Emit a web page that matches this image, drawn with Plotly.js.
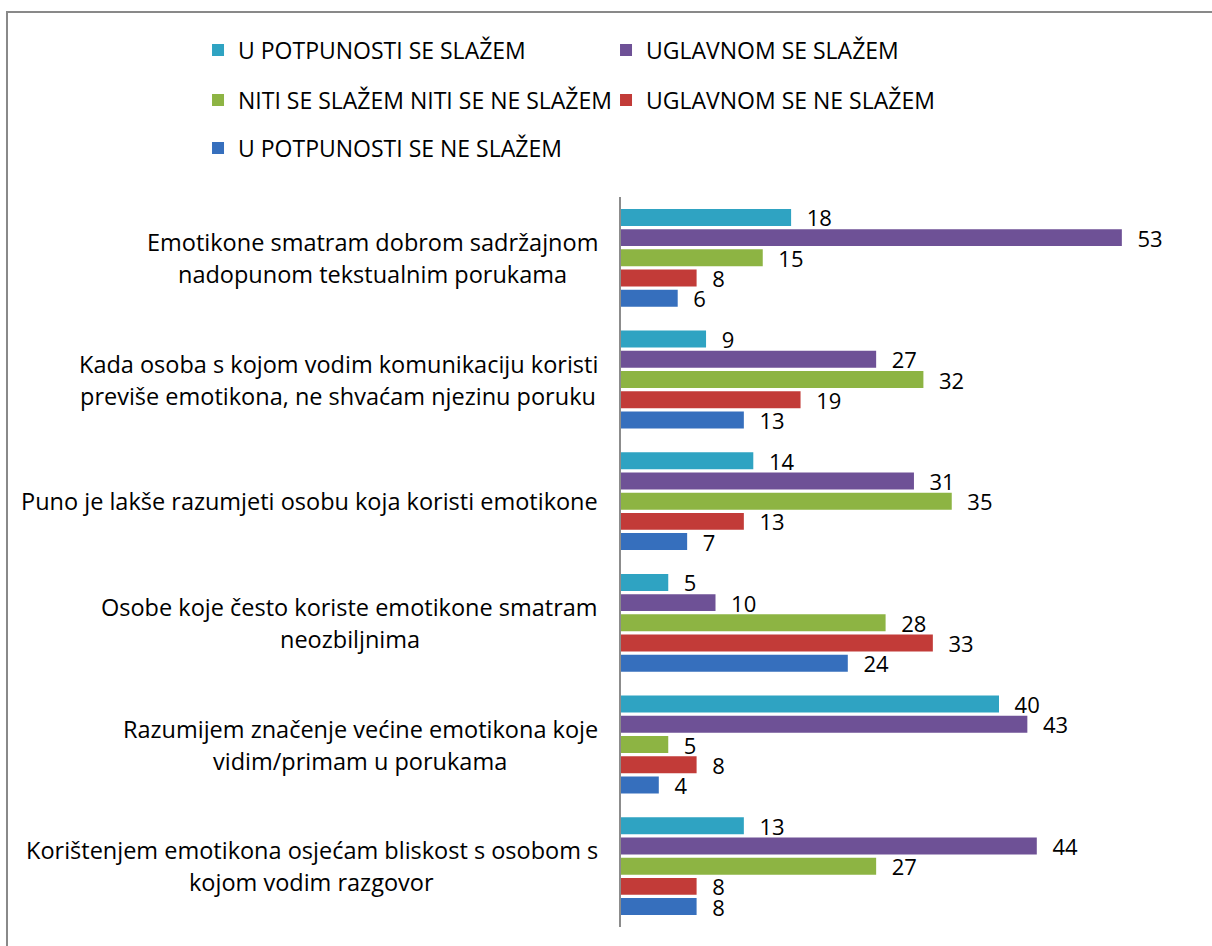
<!DOCTYPE html>
<html>
<head>
<meta charset="utf-8">
<script src="https://cdn.plot.ly/plotly-3.0.1.min.js"></script>
<style>html,body{margin:0;padding:0;background:#fff;}#chart{width:1212px;height:946px;}</style>
</head>
<body>
<div id="chart"></div>
<script>
const categories = [
  "Emotikone smatram dobrom sadržajnom<br>nadopunom tekstualnim porukama",
  "Kada osoba s kojom vodim komunikaciju koristi<br>previše emotikona, ne shvaćam njezinu poruku",
  "Puno je lakše razumjeti osobu koja koristi emotikone",
  "Osobe koje često koriste emotikone smatram<br>neozbiljnima",
  "Razumijem značenje većine emotikona koje<br>vidim/primam u porukama",
  "Korištenjem emotikona osjećam bliskost s osobom s<br>kojom vodim razgovor"
];
const seriesNames = [
  "U POTPUNOSTI SE SLAŽEM",
  "UGLAVNOM SE SLAŽEM",
  "NITI SE SLAŽEM NITI SE NE SLAŽEM",
  "UGLAVNOM SE NE SLAŽEM",
  "U POTPUNOSTI SE NE SLAŽEM"
];
const uPotpunostiSeSlazem = [18, 9, 14, 5, 40, 13];
const uglavnomSeSlazem = [53, 27, 31, 10, 43, 44];
const nitiNiti = [15, 32, 35, 28, 5, 27];
const uglavnomSeNeSlazem = [8, 19, 13, 33, 8, 8];
const uPotpunostiSeNeSlazem = [6, 13, 7, 24, 4, 8];

const seriesValues = [uPotpunostiSeSlazem, uglavnomSeSlazem, nitiNiti, uglavnomSeNeSlazem, uPotpunostiSeNeSlazem];
const colors = ["#2fa3c2", "#6e5196", "#8db443", "#c23b38", "#366fbd"];
const legendIds = ["legend", "legend", "legend2", "legend2", "legend3"];
const FAMILY = "Open Sans";
const FONT = "'Open Sans', sans-serif";
const FS_LABEL = 23.5, FS_LEGEND = 23, FS_VALUE = 22;

const PLOT_L = 621, PLOT_W = 567;

const traces = seriesNames.map((name, i) => ({
  type: "bar",
  orientation: "h",
  name: name,
  y: categories,
  x: seriesValues[i],
  marker: {color: colors[i]},
  texttemplate: "\u2007%{x}",
  textposition: "outside",
  constraintext: "none",
  cliponaxis: false,
  textfont: {family: FONT, size: FS_VALUE, color: "#000"},
  legend: legendIds[i],
  hoverinfo: "x+name"
}));

// category labels: lines centred on each other, block right edge near the axis
const ctx = document.createElement("canvas").getContext("2d");
ctx.font = FS_LABEL + "px '" + FAMILY + "'";
const rightEdge = 598;
const lineGap = 32;
const annotations = [];
categories.forEach(c => {
  const lines = c.split("<br>");
  const blockW = Math.max(...lines.map(l => ctx.measureText(l).width));
  const centerPx = rightEdge - blockW / 2;
  lines.forEach((l, k) => {
    annotations.push({
      xref: "paper", yref: "y", x: (centerPx - PLOT_L) / PLOT_W, y: c,
      xanchor: "center", yanchor: "middle",
      yshift: -((k - (lines.length - 1) / 2) * lineGap),
      showarrow: false, text: l,
      font: {family: FONT, size: FS_LABEL, color: "#000"}
    });
  });
});

const legendBase = {
  orientation: "h", xanchor: "left", yanchor: "middle", x: -0.746,
  entrywidth: 363, font: {family: FONT, size: FS_LEGEND, color: "#000"},
  bgcolor: "rgba(0,0,0,0)", traceorder: "normal"
};

const layout = {
  width: 1212, height: 946,
  margin: {l: PLOT_L, r: 1212 - PLOT_L - PLOT_W, t: 197, b: 19},
  paper_bgcolor: "#fff", plot_bgcolor: "#fff",
  font: {family: FONT, size: FS_LABEL, color: "#000"},
  barmode: "group", bargap: 0.17, bargroupgap: 0.16,
  xaxis: {range: [0, 60], showgrid: false, zeroline: false, showticklabels: false, showline: false, ticks: ""},
  yaxis: {autorange: "reversed", showgrid: false, zeroline: false, showticklabels: false, ticks: "",
          showline: true, linecolor: "#8c8c8c", linewidth: 2},
  showlegend: true,
  legend: Object.assign({}, legendBase, {y: 1.2014}),
  legend2: Object.assign({}, legendBase, {y: 1.1329}),
  legend3: Object.assign({}, legendBase, {y: 1.0671}),
  annotations: annotations,
  shapes: [{type: "rect", xref: "paper", yref: "paper",
            x0: -1.0829, x1: 1.06, y0: -0.05, y1: 1.2534,
            line: {color: "#898989", width: 2}, fillcolor: "rgba(0,0,0,0)", layer: "below"}]
};

Plotly.newPlot("chart", traces, layout, {displayModeBar: false, staticPlot: true});
</script>
</body>
</html>
